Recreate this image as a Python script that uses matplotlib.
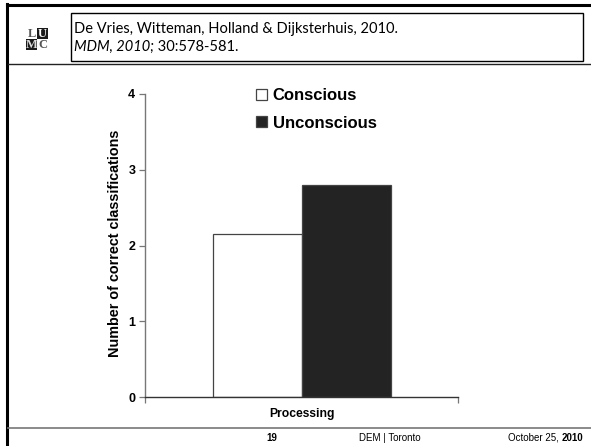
import matplotlib.pyplot as plt
from matplotlib.patches import Rectangle
from matplotlib.lines import Line2D

# data
category = "Processing"
series = ["Conscious", "Unconscious"]
values = [2.15, 2.80]
bar_colors = ["white", "#232323"]
yticks = [0, 1, 2, 3, 4]

W, H = 591, 446
plt.rcParams['font.family'] = ['Liberation Sans', 'DejaVu Sans']
fig = plt.figure(figsize=(W / 100, H / 100), dpi=100)


def px(x, y):
    # pixel position (from top-left) -> figure fraction
    return x / W, 1 - y / H


# bar chart
ax = fig.add_axes([145 / W, 1 - 397 / H, (458 - 145) / W, (397 - 94) / H])
width = 89 / 313
offsets = [-width / 2, width / 2]
for name, val, col, off in zip(series, values, bar_colors, offsets):
    ax.bar(off, val, width=width, color=col, edgecolor='#444444', linewidth=0.9, label=name)

ax.set_xlim(-0.5, 0.5)
ax.set_ylim(0, 4)
ax.set_yticks(yticks)
ax.set_yticklabels([str(v) for v in yticks], fontweight='bold', fontsize=9)
ax.set_xticks([-0.5, 0.5])
ax.set_xticklabels([])
ax.tick_params(axis='both', direction='out', length=4, width=0.9, color='#777777', pad=3)
for s in ['top', 'right']:
    ax.spines[s].set_visible(False)
for s in ['left', 'bottom']:
    ax.spines[s].set_color('#777777')
    ax.spines[s].set_linewidth(1.0)
ax.spines['bottom'].set_color('#333333')

ax.set_xlabel(category, fontweight='bold', fontsize=8.7, labelpad=1)
ax.set_ylabel("Number of correct classifications", fontweight='bold', fontsize=10.4)
ax.yaxis.set_label_coords(-0.072, 0.508)

ax.legend(loc='upper left', bbox_to_anchor=px(256, 88), bbox_transform=fig.transFigure,
          frameon=False, prop={'weight': 'bold', 'size': 12}, handlelength=0.65,
          handleheight=0.65, handletextpad=0.35, labelspacing=0.75, borderpad=0,
          borderaxespad=0)

# slide frame
fig.add_artist(Line2D([7 / W, 7 / W], [0, px(0, 4)[1]], color='black', lw=2.2))
fig.add_artist(Line2D([7 / W, 1], [px(0, 5)[1]] * 2, color='black', lw=2.2))
fig.add_artist(Line2D([8 / W, 1], [px(0, 64)[1]] * 2, color='#222222', lw=1.0))
fig.add_artist(Line2D([8 / W, 1], [px(0, 428)[1]] * 2, color='#777777', lw=1.2))

# header box with reference
x0, y0 = px(71, 61)
fig.add_artist(Rectangle((x0, y0), (583 - 71) / W, (61 - 13) / H, transform=fig.transFigure,
                         facecolor='none', edgecolor='black', lw=1.0))
fig.text(*px(74, 29), "De Vries, Witteman, Holland & Dijksterhuis, 2010.",
         family='Lato', fontsize=10.5, va='center')
t1 = fig.text(*px(74, 47), "MDM, 2010;", family='Lato', fontsize=10.5, style='italic', va='center')
ax.annotate(" 30:578-581.", xy=(1, 0.5), xycoords=t1, va='center', family='Lato',
            fontsize=10.5, annotation_clip=False)

# LUMC logo
cells = [("L", 26, 28, 'white', '#555555'), ("U", 37, 28, '#1a1a1a', 'white'),
         ("M", 26, 39, '#1a1a1a', '#dddddd'), ("C", 37, 39, 'white', '#555555')]
for letter, cx, cy, bg, fg in cells:
    lx, ly = px(cx, cy + 11)
    fig.add_artist(Rectangle((lx, ly), 11 / W, 11 / H, transform=fig.transFigure,
                             facecolor=bg, edgecolor='none'))
    fig.text(*px(cx + 5.5, cy + 5.8), letter, family='Liberation Serif', fontsize=9,
             color=fg, ha='center', va='center', fontweight='bold')

# footer
fig.text(*px(272, 438), "19", fontsize=7, fontweight='bold', ha='center', va='center')
fig.text(*px(390, 438), "DEM | Toronto", fontsize=7, ha='center', va='center')
t2 = fig.text(*px(508, 438), "October 25, ", fontsize=7, va='center')
ax.annotate("2010", xy=(1, 0.5), xycoords=t2, va='center', fontsize=7, fontweight='bold',
            annotation_clip=False)

plt.savefig('out.png', dpi=100)
plt.close()
